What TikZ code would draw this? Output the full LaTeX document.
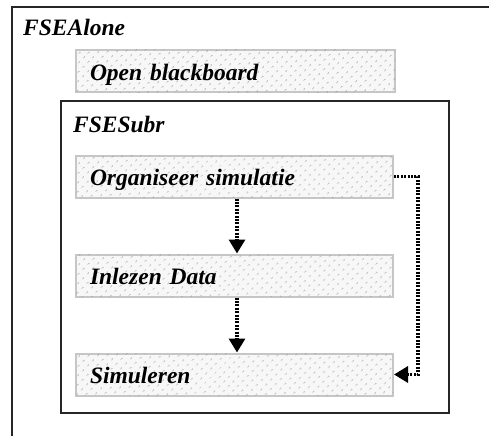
\documentclass[tikz,border=0pt]{standalone}
\usepackage{fontspec}
\setmainfont{Liberation Serif}
\usetikzlibrary{positioning,arrows.meta,patterns.meta}

\begin{document}
\begin{tikzpicture}[x=1pt, y=-1pt,
    frame/.style={draw=black!85, line width=2pt},
    title/.style={anchor=base west, inner sep=0pt, font=\fontsize{23.5}{28}\selectfont\bfseries\itshape},
    task/.style={draw=gray!45, line width=2pt, fill=gray!6,
      postaction={pattern={Dots[distance=6.5pt,angle=45,radius=0.8pt]}, pattern color=gray!85},
      minimum width=317pt, minimum height=42pt, text width=289pt, inner xsep=14pt, inner ysep=0pt,
      align=left, text height=20pt, text depth=2pt, font=\fontsize{23.5}{28}\selectfont\bfseries\itshape},
    flow/.style={line width=3.2pt, dash pattern=on 2pt off 1.4pt, -{Triangle[length=14pt,width=16pt]}},
    node distance = 55pt]
        \useasboundingbox (0,0) rectangle (489,436);
        \draw[frame] (12,436) -- (12,7) -- (489,7);
        \node[title](alone) at (23,36) {FSEAlone};
        \node[task, minimum width=319pt, text width=291pt](open) at (235.5,71) {Open blackboard};
        \draw[frame] (61,101) rectangle (449,413);
        \node[title](subr) at (73,132) {FSESubr};
        \node[task](org)  at (234.5,176.5)    {Organiseer simulatie};
        \node[task](inl)  [below = of org]    {Inlezen Data};
        \node[task](sim)  [below = of inl]    {Simuleren};
        \coordinate (turn) at (418,176.5);
        \draw[flow] ([xshift=2.5pt]org.south) -- ([xshift=2.5pt]inl.north);
        \draw[flow] ([xshift=2.5pt]inl.south) -- ([xshift=2.5pt]sim.north);
        \draw[flow] (org.east) -- (turn) |- (sim.east);
\end{tikzpicture}
\end{document}
